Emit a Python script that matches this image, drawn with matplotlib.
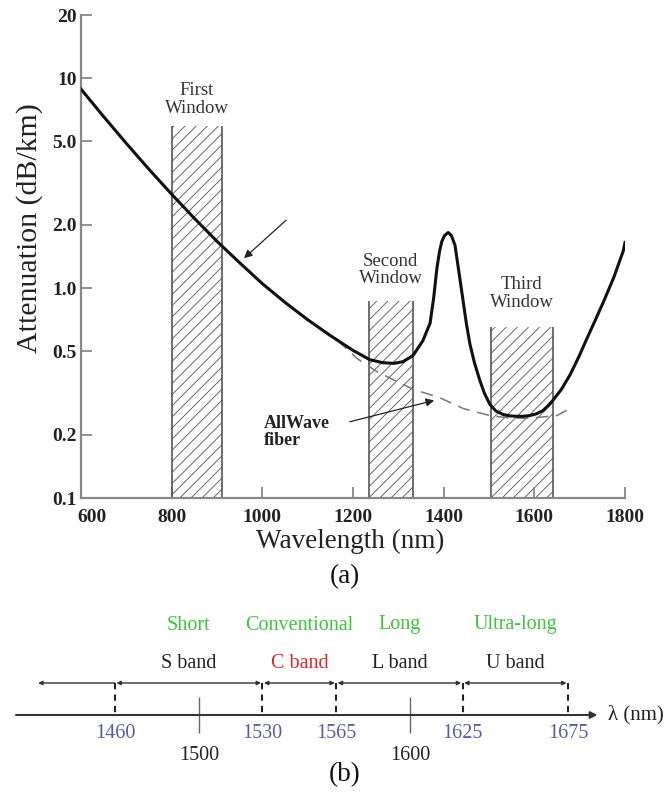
import matplotlib
matplotlib.use("Agg")
import matplotlib.pyplot as plt
from matplotlib.transforms import ScaledTranslation

plt.rcParams['font.family'] = ['Liberation Serif', 'DejaVu Serif']
plt.rcParams['hatch.linewidth'] = 0.7

# ---------------- data (a) ----------------
wavelength = [600, 650, 700, 750, 800, 850, 900, 950, 1000, 1050, 1100, 1150, 1200,
              1237, 1266, 1290, 1310, 1332, 1354, 1370, 1378, 1385, 1391, 1396, 1402,
              1410, 1417, 1425, 1433, 1443, 1450, 1458, 1468, 1480, 1490, 1502, 1515,
              1531, 1547, 1562, 1575, 1590, 1605, 1619, 1630, 1641, 1660, 1679, 1698,
              1716, 1734, 1752, 1775, 1796, 1800]
attenuation = [8.87, 6.56, 4.89, 3.68, 2.80, 2.15, 1.67, 1.32, 1.05, 0.855, 0.707, 0.594, 0.505,
               0.456, 0.441, 0.438, 0.446, 0.476, 0.561, 0.68, 0.90, 1.24, 1.50, 1.67, 1.78,
               1.84, 1.78, 1.60, 1.22, 0.865, 0.68, 0.54, 0.44, 0.362, 0.315, 0.279, 0.26,
               0.250, 0.246, 0.245, 0.245, 0.247, 0.252, 0.261, 0.275, 0.292, 0.33, 0.387, 0.47,
               0.575, 0.70, 0.855, 1.12, 1.50, 1.65]

allwave_wl = [1130, 1175, 1210, 1253, 1290, 1332, 1392, 1443, 1502, 1550, 1590, 1650, 1683]
allwave_att = [0.64, 0.54, 0.46, 0.40, 0.365, 0.33, 0.30, 0.267, 0.247, 0.240, 0.240, 0.247, 0.27]

window_start = [800, 1235, 1504]
window_end = [910, 1332, 1641]
window_top = [5.9, 0.87, 0.65]
window_names = ['First\nWindow', 'Second\nWindow', 'Third\nWindow']
window_label_y = [7.9, 1.22, 0.94]

x_ticks = [600, 800, 1000, 1200, 1400, 1600, 1800]
y_ticks = [0.1, 0.2, 0.5, 1.0, 2.0, 5.0, 10, 20]
y_tick_labels = ['0.1', '0.2', '0.5', '1.0', '2.0', '5.0', '10', '20']

# ---------------- data (b) ----------------
band_edges = [1460, 1530, 1565, 1625, 1675]
band_names = ['S band', 'C band', 'L band', 'U band']
band_full = ['Short', 'Conventional', 'Long', 'Ultra-long']
band_colors = ['#222222', '#e0262a', '#222222', '#222222']
minor_marks = [1500, 1600]

W, H = 672, 800
fig = plt.figure(figsize=(W / 100, H / 100), dpi=100)

def px(x, y):
    return x / W, 1 - y / H

# ---------------- panel (a) ----------------
ax = fig.add_axes([81 / W, 1 - 498 / H, 544 / W, (498 - 15) / H])
ax.set_yscale('log')
ax.set_xlim(600, 1800)
ax.set_ylim(0.1, 20)

for s, e, t in zip(window_start, window_end, window_top):
    ax.bar(s, t - 0.1, width=e - s, bottom=0.1, align='edge', color='white',
           edgecolor='#666666', linewidth=0, hatch='///', zorder=1)
    ax.vlines([s, e], 0.1, t, color='#555555', linewidth=1.2, zorder=2)

for s, e, name, ly in zip(window_start, window_end, window_names, window_label_y):
    ax.text((s + e) / 2, ly, name, ha='center', va='center', fontsize=13.5,
            color='#333333', linespacing=1.05)

ax.plot(allwave_wl, allwave_att, color='#777777', linewidth=1.1,
        dashes=(8, 5), zorder=3)
ax.plot(wavelength, attenuation, color='#111111', linewidth=2.2, zorder=4,
        solid_joinstyle='round')

ax.annotate('', xy=(955, 1.36), xytext=(1057, 2.15),
            arrowprops=dict(arrowstyle='-|>', color='#222222', lw=0.9,
                            mutation_scale=12))
ax.annotate('', xy=(1385, 0.294), xytext=(1187, 0.229),
            arrowprops=dict(arrowstyle='-|>', color='#222222', lw=0.9,
                            mutation_scale=12))
ax.text(1004, 0.207, 'AllWave\nfiber', ha='left', va='center', fontsize=13,
        fontweight='bold', color='#222222', linespacing=1.0)

for sp in ['top', 'right']:
    ax.spines[sp].set_visible(False)
for sp in ['left', 'bottom']:
    ax.spines[sp].set_color('#888888')
    ax.spines[sp].set_linewidth(1.6)

ax.set_xticks(x_ticks)
ax.set_xticklabels([str(v) for v in x_ticks])
ax.set_yticks(y_ticks)
ax.set_yticklabels(y_tick_labels)
ax.yaxis.set_minor_locator(matplotlib.ticker.NullLocator())
ax.tick_params(axis='both', direction='in', length=8, width=1.3, color='#888888',
               labelsize=14, labelcolor='#222222')
ax.tick_params(axis='x', pad=8)
ax.tick_params(axis='y', pad=3)
for lab in ax.get_xticklabels() + ax.get_yticklabels():
    lab.set_fontweight('bold')
first = ax.get_xticklabels()[0]
first.set_transform(first.get_transform() + ScaledTranslation(0.11, 0, fig.dpi_scale_trans))

fig.text(*px(30, 228), 'Attenuation (dB/km)', rotation=90, ha='center', va='center',
         fontsize=21.5, color='#222222')
fig.text(*px(350, 541), 'Wavelength (nm)', ha='center', va='center', fontsize=19.5,
         color='#222222')
fig.text(*px(345, 577), '(a)', ha='center', va='center', fontsize=19.5, color='#111111')

# ---------------- panel (b) ----------------
axb = fig.add_axes([0, 0, 1, 0.25])
axb.set_xlim(1460 - 115 / 2.107, 1675 + 104 / 2.107)
axb.set_ylim(800, 600)
axb.axis('off')

axis_y, arrow_y = 715, 683
axb.annotate('', xy=(1689, axis_y), xytext=(1413, axis_y),
             arrowprops=dict(arrowstyle='-|>', color='#333333', lw=1.5,
                             mutation_scale=10, shrinkA=0, shrinkB=0))
axb.annotate('', xy=(1423.5, arrow_y), xytext=(band_edges[0], arrow_y),
             arrowprops=dict(arrowstyle='-|>', color='#333333', lw=1.0,
                             mutation_scale=6, shrinkA=0, shrinkB=0))
for a, b in zip(band_edges[:-1], band_edges[1:]):
    axb.annotate('', xy=(b, arrow_y), xytext=(a, arrow_y),
                 arrowprops=dict(arrowstyle='<|-|>', color='#333333', lw=1.0,
                                 mutation_scale=6, shrinkA=1, shrinkB=1))
axb.vlines(band_edges, arrow_y, axis_y, colors='#222222', linestyles=(0, (3, 2.5)),
           linewidth=1.5)
axb.vlines(minor_marks, 697, 733, colors='#666666', linewidth=1.0)

for v in band_edges:
    axb.text(v, 733, str(v), ha='center', va='center', fontsize=14.5, color='#5a5aa8')
for v in minor_marks:
    axb.text(v, 755, str(v), ha='center', va='center', fontsize=14.5, color='#222222')

for a, b, nm, full, c in zip(band_edges[:-1], band_edges[1:], band_names, band_full, band_colors):
    axb.text((a + b) / 2, 663, nm, ha='center', va='center', fontsize=14.5, color=c)
    axb.text((a + b) / 2, 625, full, ha='center', va='center', fontsize=14.5, color='#3cc43c')

axb.text(1694, axis_y, 'λ (nm)', ha='left', va='center', fontsize=15, color='#222222')
fig.text(*px(345, 775), '(b)', ha='center', va='center', fontsize=19.5, color='#111111')

fig.savefig('out.png', dpi=100, facecolor='white')
